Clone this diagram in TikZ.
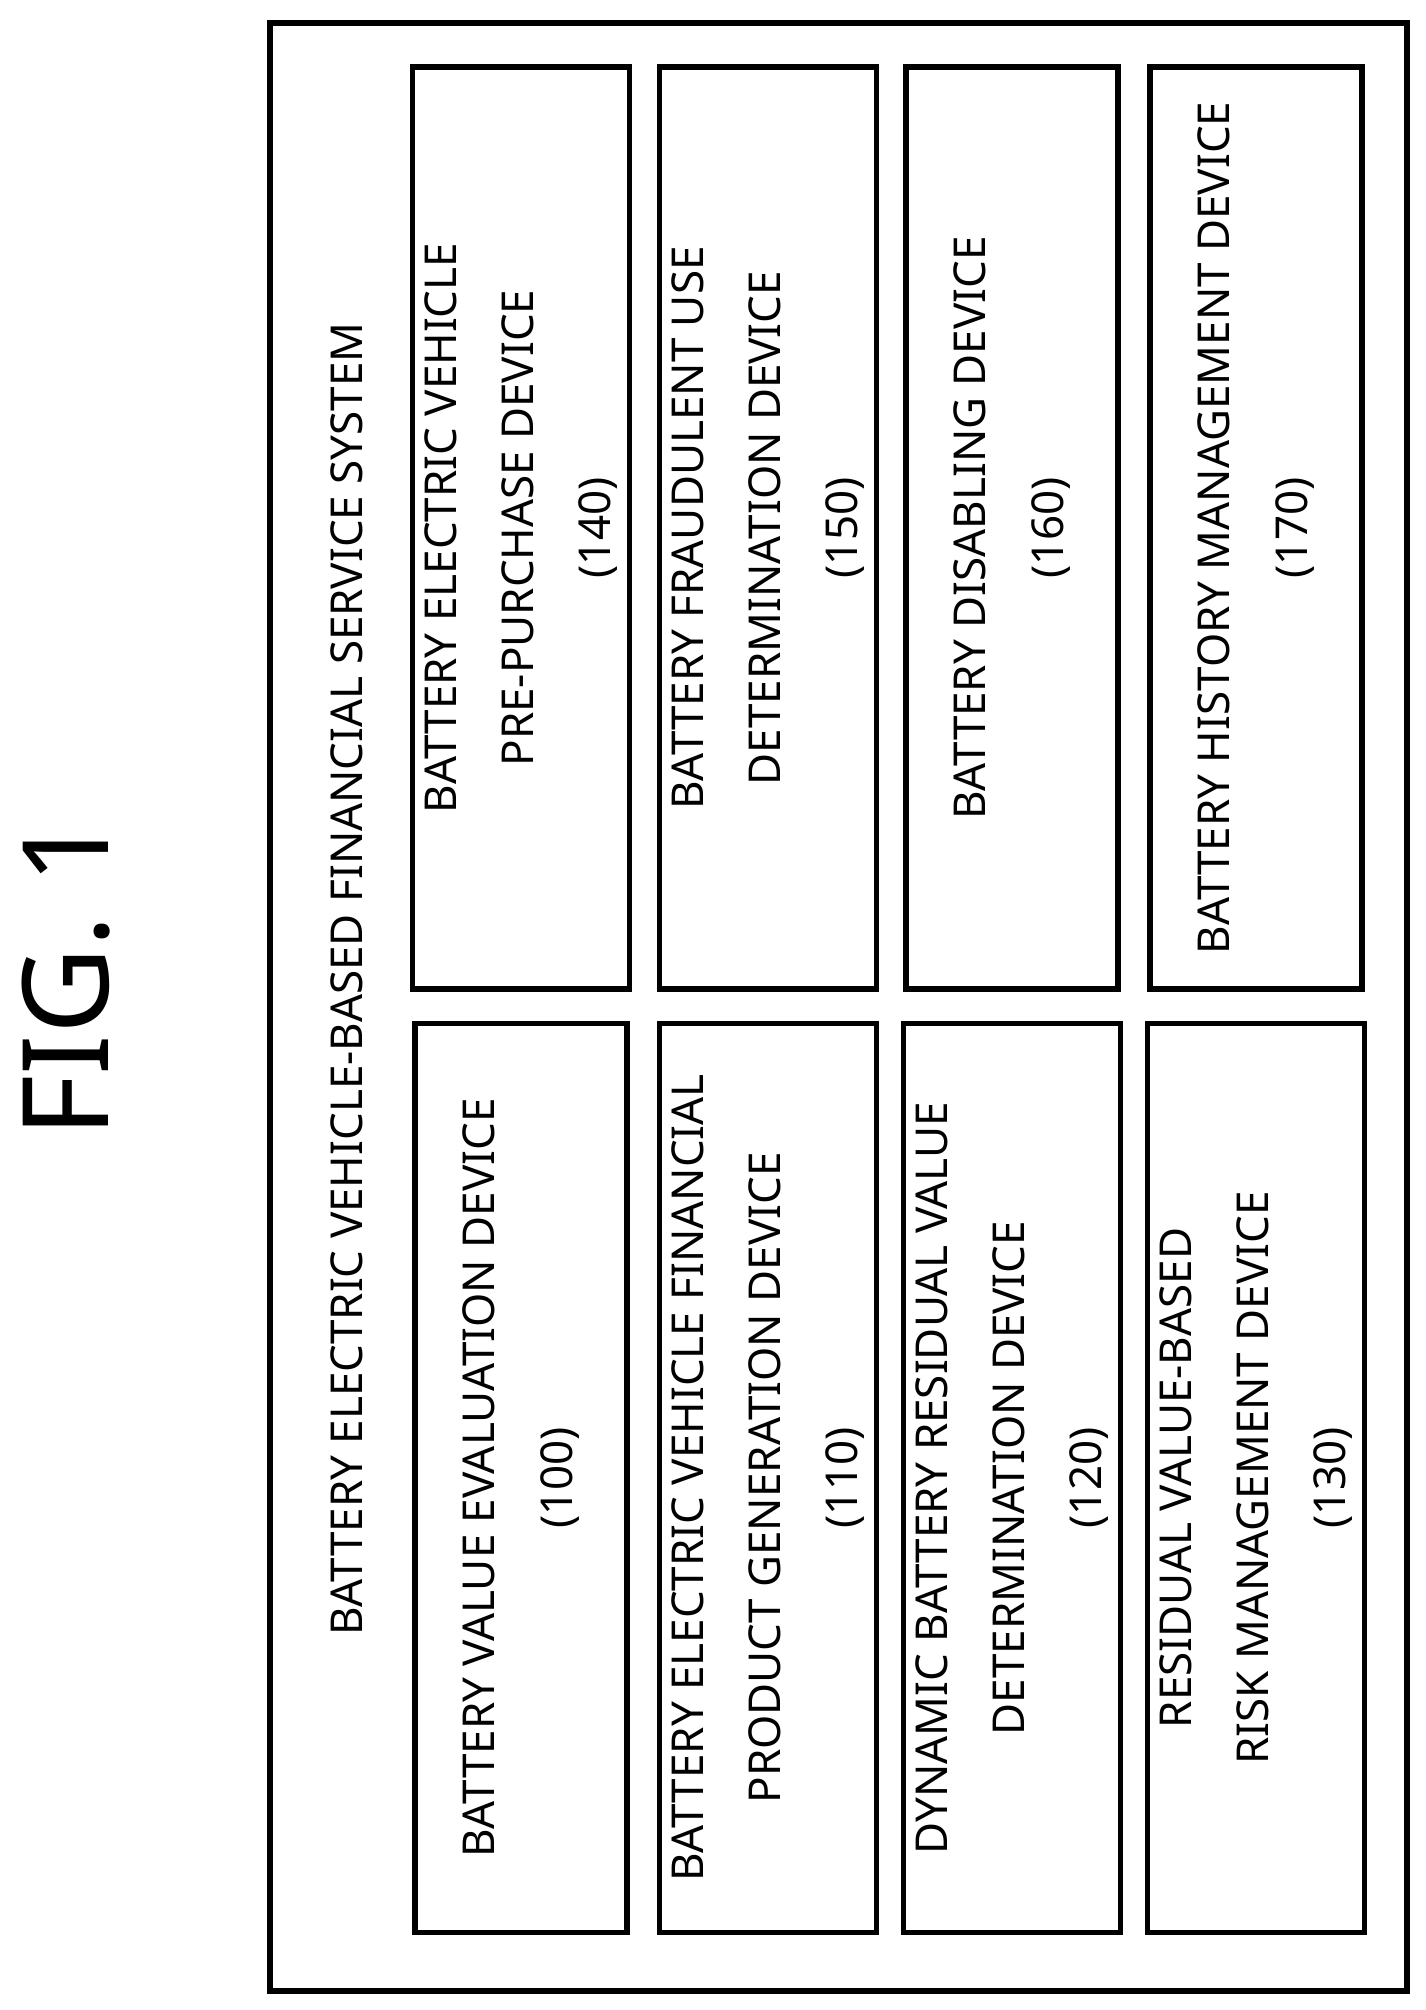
\documentclass[tikz,border=0pt]{standalone}
\usepackage{fontspec}
\setmainfont{Noto Sans}
\usetikzlibrary{positioning}

\tikzset{
  devbox/.style={draw, line width=1.6pt, minimum width=71.8mm, minimum height=21.2mm, rotate=90,
    align=center, font=\fontsize{12.5}{22}\selectfont},
}

\begin{document}
\begin{tikzpicture}[x=0.1mm, y=-0.1mm]
\useasboundingbox (0,0) rectangle (1426,2010);

\node[rotate=90, font=\fontsize{34}{40}\selectfont] (fig) at (66,977) {FIG. 1};

\draw[line width=1.6pt] (270,23) rectangle (1407,1991);
\node[rotate=90, font=\fontsize{12.5}{22}\selectfont] (system) at (347,979) {BATTERY ELECTRIC VEHICLE-BASED FINANCIAL SERVICE SYSTEM};

% left column of devices
\node[devbox, minimum width=90.9mm] (dev_100) at (521,1478) {BATTERY VALUE EVALUATION DEVICE\\(100)};
\node[devbox, minimum width=90.9mm] (dev_110) at (768,1478) {BATTERY ELECTRIC VEHICLE FINANCIAL\\PRODUCT GENERATION DEVICE\\(110)};
\node[devbox, minimum width=90.9mm] (dev_120) at (1012,1478) {DYNAMIC BATTERY RESIDUAL VALUE\\DETERMINATION DEVICE\\(120)};
\node[devbox, minimum width=90.9mm] (dev_130) at (1256,1478) {RESIDUAL VALUE-BASED\\RISK MANAGEMENT DEVICE\\(130)};

% right column of devices
\node[devbox, minimum width=92.2mm] (dev_140) at (521,528) {BATTERY ELECTRIC VEHICLE\\PRE-PURCHASE DEVICE\\(140)};
\node[devbox, minimum width=92.2mm] (dev_150) at (768,528) {BATTERY FRAUDULENT USE\\DETERMINATION DEVICE\\(150)};
\node[devbox, minimum width=92.2mm] (dev_160) at (1012,528) {BATTERY DISABLING DEVICE\\(160)};
\node[devbox, minimum width=92.2mm] (dev_170) at (1256,528) {BATTERY HISTORY MANAGEMENT DEVICE\\(170)};

\end{tikzpicture}
\end{document}
